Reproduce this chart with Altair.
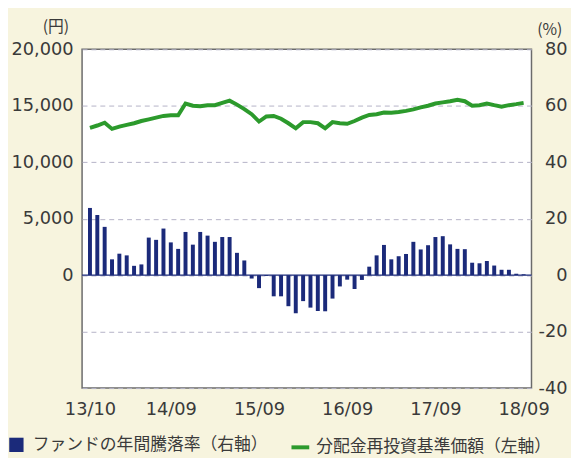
import altair as alt
import pandas as pd

# ---- data ----
months = pd.date_range("2013-10-01", periods=60, freq="MS").strftime("%y/%m").tolist()

return_pct = [23.8, 21.3, 17.1, 5.6, 7.6, 7.0, 3.3, 3.8, 13.3, 12.5,
              16.5, 11.6, 9.3, 15.3, 10.8, 15.3, 14.0, 11.8, 13.5, 13.5,
              7.9, 5.2, -1.2, -4.6, -0.3, -7.5, -7.5, -11.0, -13.5, -9.2,
              -11.5, -12.7, -12.8, -8.3, -4.0, -1.6, -4.9, -1.7, 3.0, 7.0,
              10.7, 5.6, 6.7, 7.5, 11.8, 9.1, 10.6, 13.5, 13.8, 10.9,
              9.3, 9.2, 4.4, 4.2, 5.0, 3.4, 1.9, 1.9, 0.5, 0.3]

nav = [13050, 13250, 13500, 12950, 13150, 13300, 13450, 13650, 13800, 13950,
       14100, 14150, 14150, 15200, 15000, 14950, 15050, 15050, 15250, 15450,
       15100, 14700, 14250, 13600, 14050, 14100, 13850, 13450, 13000, 13550,
       13550, 13450, 13000, 13550, 13450, 13400, 13650, 13950, 14180, 14250,
       14400, 14380, 14450, 14550, 14680, 14850, 15000, 15200, 15300, 15400,
       15530, 15400, 15000, 15050, 15200, 15050, 14920, 15050, 15140, 15250]

tick_labels = ["13/10", "14/09", "15/09", "16/09", "17/09", "18/09"]
left_ticks = [0, 5000, 10000, 15000, 20000]
right_ticks = [-40, -20, 0, 20, 40, 60, 80]

BAR_NAME = "ファンドの年間騰落率（右軸）"
LINE_NAME = "分配金再投資基準価額（左軸）"

NAVY = "#1b2a7a"
GREEN = "#2c9a2c"
CREAM = "#f7f4de"
TEXT = "#3a3a3a"

df = pd.DataFrame({
    "i": list(range(len(months))),
    "month": months,
    "ret": return_pct,
    "nav": nav,
    "s_bar": BAR_NAME,
    "s_line": LINE_NAME,
})

tick_values = [months.index(t) for t in tick_labels]
month_array = "[" + ",".join("'" + m + "'" for m in months) + "]"

x_enc = alt.X(
    "i:Q",
    scale=alt.Scale(domain=[-0.4, len(months) - 0.6], nice=False, zero=False),
    axis=alt.Axis(values=tick_values, labelExpr=month_array + "[datum.value]",
                  title=None, grid=False, domain=False, ticks=False,
                  labelPadding=13, labelFlush=False),
)

line = alt.Chart(df).mark_line(strokeWidth=4).encode(
    x=x_enc,
    y=alt.Y("nav:Q",
            scale=alt.Scale(domain=[-10000, 20000], nice=False, zero=False),
            axis=alt.Axis(orient="left", values=left_ticks,
                          labelExpr="format(datum.value, ',')",
                          grid=False, domain=False, ticks=False, labelPadding=9,
                          title="(円)", titleAngle=0, titleX=-27, titleY=-23,
                          titleAlign="center", titleBaseline="middle",
                          titleFont="Noto Sans CJK JP", titleFontSize=16,
                          titleFontWeight="normal", titleColor=TEXT)),
    color=alt.Color("s_line:N", scale=alt.Scale(range=[GREEN]),
                    legend=alt.Legend(orient="none", legendX=210, legendY=392,
                                      title=None, symbolType="stroke",
                                      symbolSize=324, symbolStrokeWidth=4,
                                      labelOffset=5, labelFont="Noto Sans CJK JP",
                                      labelFontSize=17, labelColor=TEXT,
                                      labelLimit=400, padding=0)),
)

bars = alt.Chart(df).mark_bar(size=4).encode(
    x=x_enc,
    y=alt.Y("ret:Q",
            scale=alt.Scale(domain=[-40, 80], nice=False, zero=False),
            axis=alt.Axis(orient="right", values=right_ticks,
                          labelExpr="datum.value + ''",
                          grid=True, gridDash=[5, 4], gridColor="#b4b2c6",
                          gridWidth=1, domain=False, ticks=False,
                          labelAlign="right", labelPadding=36,
                          title="(%)", titleAngle=0, titleX=18, titleY=-20,
                          titleAlign="center", titleBaseline="middle",
                          titleFont="Noto Sans CJK JP", titleFontSize=16,
                          titleFontWeight="normal", titleColor=TEXT)),
    color=alt.Color("s_bar:N", scale=alt.Scale(range=[NAVY]),
                    legend=alt.Legend(orient="none", legendX=-75, legendY=392,
                                      title=None, symbolType="square",
                                      symbolSize=210, symbolStrokeWidth=0,
                                      labelOffset=8, labelFont="Noto Sans CJK JP",
                                      labelFontSize=17, labelColor=TEXT,
                                      labelLimit=400, padding=0)),
)

zero_rule = alt.Chart(pd.DataFrame({"z": [0]})).mark_rule(
    color=NAVY, strokeWidth=1.3
).encode(y=alt.datum(0))

right_group = alt.layer(zero_rule, bars)

chart = alt.layer(line, right_group).resolve_scale(
    y="independent", color="independent"
).resolve_legend(color="independent").properties(
    width=455, height=343,
    autosize=alt.AutoSizeParams(type="none"),
    padding={"left": 75, "top": 39, "right": 40, "bottom": 68},
).configure(
    background=CREAM,
).configure_view(
    fill="white", stroke="#6b6b6b", strokeWidth=1.5,
).configure_axis(
    labelFont="DejaVu Sans", labelFontSize=18, labelColor=TEXT,
)

chart.save("out.html", embed_options={"renderer": "svg", "actions": False})
